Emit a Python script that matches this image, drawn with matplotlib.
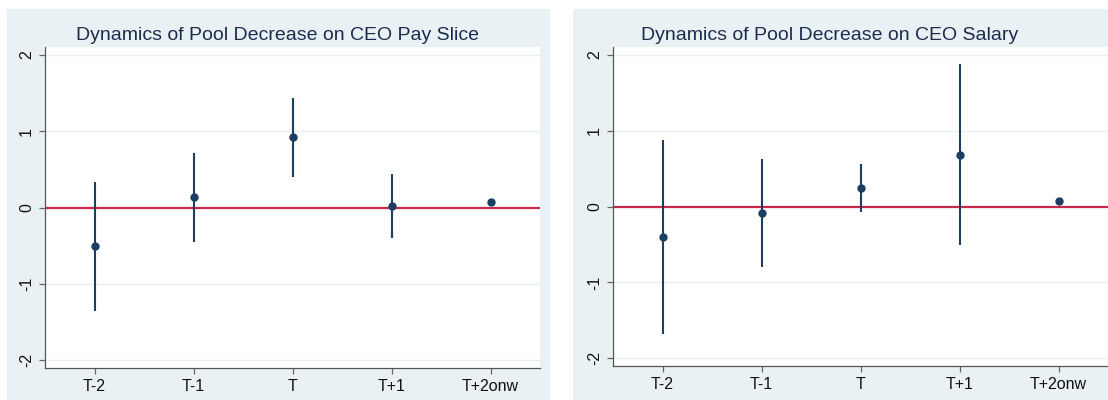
import numpy as np
import matplotlib.pyplot as plt
from matplotlib.patches import Rectangle

plt.rcParams['font.family'] = ['Liberation Sans', 'DejaVu Sans']

# periods on the x axis
periods = ['T-2', 'T-1', 'T', 'T+1', 'T+2onw']

# left panel: CEO pay slice (coefficient and confidence interval)
pay_coef = [-0.50, 0.14, 0.92, 0.02, 0.07]
pay_lo = [-1.35, -0.45, 0.40, -0.40, np.nan]
pay_hi = [0.33, 0.71, 1.43, 0.44, np.nan]

# right panel: CEO salary
sal_coef = [-0.40, -0.08, 0.24, 0.68, 0.07]
sal_lo = [-1.68, -0.80, -0.07, -0.51, np.nan]
sal_hi = [0.87, 0.63, 0.56, 1.88, np.nan]

titles = ['Dynamics of Pool Decrease on CEO Pay Slice',
          'Dynamics of Pool Decrease on CEO Salary']

W, H = 1108, 400
bg = '#eaf1f4'
navy = '#1a3f63'
red = '#c8284c'

fig = plt.figure(figsize=(W / 100, H / 100), dpi=100)

# grey graph regions behind each panel (pixel boxes -> figure fractions)
for x0, x1 in [(7, 550), (573, 1108)]:
    fig.patches.append(Rectangle((x0 / W, 0), (x1 - x0) / W, (400 - 9) / H,
                                 transform=fig.transFigure, facecolor=bg,
                                 edgecolor='none', zorder=-5))

axes_px = [(45, 540, 47, 368), (613, 1108, 47, 366)]
title_x = [278, 830]
data = [(pay_coef, pay_lo, pay_hi), (sal_coef, sal_lo, sal_hi)]

for k in range(2):
    l, r, t, b = axes_px[k]
    ax = fig.add_axes([l / W, (H - b) / H, (r - l) / W, (b - t) / H])
    ax.set_zorder(2)
    ax.set_facecolor('white')
    coef, lo, hi = data[k]
    x = np.arange(len(periods))

    for yy in [-2, -1, 1, 2]:
        ax.axhline(yy, color='#e9f0f2', lw=1.0, zorder=1)
    ax.axhline(0, color=red, lw=1.6, zorder=2)

    ax.vlines(x, lo, hi, color=navy, lw=1.5, zorder=3)
    ax.plot(x, coef, 'o', color=navy, ms=5, zorder=4)

    ax.set_xlim(-0.5, 4.5)
    ax.set_ylim(-2.1, 2.1)
    ax.set_xticks(x)
    ax.set_xticklabels(periods, fontsize=11.5)
    ax.set_yticks([-2, -1, 0, 1, 2])
    ax.set_yticklabels(['-2', '-1', '0', '1', '2'], fontsize=11.5, rotation=90,
                       va='center')
    ax.tick_params(axis='both', length=4, width=0.9, color='#666666',
                   labelcolor='#111111', pad=4)
    for s in ['top', 'right']:
        ax.spines[s].set_visible(False)
    for s in ['left', 'bottom']:
        ax.spines[s].set_color('#555555')
        ax.spines[s].set_linewidth(0.9)

    fig.text(title_x[k] / W, (H - 35) / H, titles[k], ha='center', va='center',
             fontsize=14, color='#1c2c4c', zorder=3)

fig.savefig('out.png', dpi=100)
